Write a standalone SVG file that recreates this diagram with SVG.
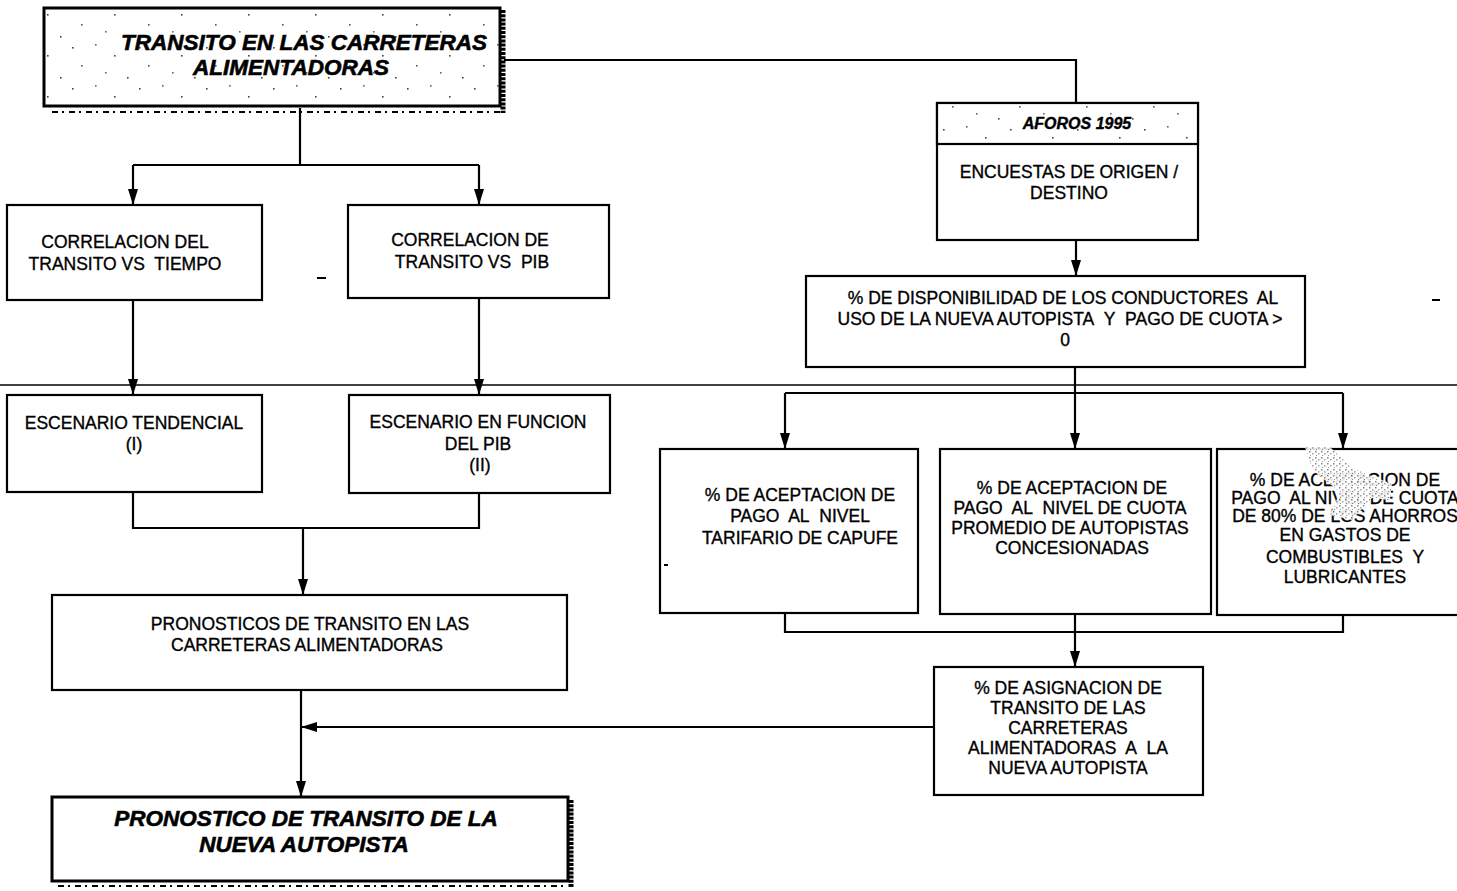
<svg xmlns="http://www.w3.org/2000/svg" width="1457" height="891" viewBox="0 0 1457 891">
  <defs>
    <style>
      .box { fill: #fff; stroke: #000; stroke-width: 2.2; }
      .hdr { fill: url(#stipple); stroke: #000; stroke-width: 3; }
      .t { font-family: "Liberation Sans", Arial, sans-serif; font-size: 17.5px; fill: #000; stroke: #000; stroke-width: 0.35; text-anchor: middle; }
      .ti { font-family: "Liberation Sans", Arial, sans-serif; font-size: 22.5px; font-weight: bold; font-style: italic; fill: #000; stroke: #000; stroke-width: 0.6; text-anchor: middle; }
      .conn { fill: none; stroke: #000; stroke-width: 2.2; }
      .shadow { fill: none; stroke: #000; stroke-width: 5; stroke-dasharray: 3 1.2; }
      .shadowb { fill: none; stroke: #000; stroke-width: 2; stroke-dasharray: 6 4 2 5; }
    </style>
    <!-- sparse speckle texture used in the heading boxes -->
    <pattern id="stipple" width="67" height="41" patternUnits="userSpaceOnUse">
      <rect width="67" height="41" fill="#fff"/>
      <rect x="5" y="6" width="1.6" height="1.6" fill="#444"/>
      <rect x="28" y="3" width="1.6" height="1.6" fill="#666"/>
      <rect x="47" y="14" width="1.6" height="1.6" fill="#444"/>
      <rect x="14" y="24" width="1.6" height="1.6" fill="#555"/>
      <rect x="38" y="31" width="1.6" height="1.6" fill="#666"/>
      <rect x="60" y="36" width="1.6" height="1.6" fill="#444"/>
    </pattern>
    <pattern id="smudge" width="6" height="6" patternUnits="userSpaceOnUse">
      <rect width="6" height="6" fill="#fff"/>
      <rect x="1" y="1" width="1.5" height="1.5" fill="#777"/>
      <rect x="4" y="3" width="1.5" height="1.5" fill="#999"/>
      <rect x="2" y="5" width="1" height="1" fill="#888"/>
    </pattern>
    <marker id="arr" viewBox="0 0 16 10" refX="16" refY="5" markerWidth="16" markerHeight="10" markerUnits="userSpaceOnUse" orient="auto">
      <path d="M0,0 L16,5 L0,10 Z" fill="#000"/>
    </marker>
  </defs>

  <rect width="1457" height="891" fill="#fff"/>

  <!-- long horizontal rule across the sheet -->
  <g id="rule">
    <line x1="0" y1="385" x2="1457" y2="385" stroke="#000" stroke-width="1.4"/>
  </g>

  <!-- connectors -->
  <g id="connectors">
    <path class="conn" d="M504,60 H1076 V103"/>
    <path class="conn" d="M300,108 V165"/>
    <path class="conn" d="M133,165 H479"/>
    <path class="conn" d="M133,165 V205" marker-end="url(#arr)"/>
    <path class="conn" d="M479,165 V205" marker-end="url(#arr)"/>
    <path class="conn" d="M133,300 V395" marker-end="url(#arr)"/>
    <path class="conn" d="M479,298 V395" marker-end="url(#arr)"/>
    <path class="conn" d="M133,492 V528 H479 V493"/>
    <path class="conn" d="M303,528 V595" marker-end="url(#arr)"/>
    <path class="conn" d="M301,690 V797" marker-end="url(#arr)"/>
    <path class="conn" d="M934,727 H301" marker-end="url(#arr)"/>
    <path class="conn" d="M1076,240 V276" marker-end="url(#arr)"/>
    <path class="conn" d="M1075,367 V393"/>
    <path class="conn" d="M785,393 H1343"/>
    <path class="conn" d="M785,393 V449" marker-end="url(#arr)"/>
    <path class="conn" d="M1075,393 V449" marker-end="url(#arr)"/>
    <path class="conn" d="M1343,393 V449" marker-end="url(#arr)"/>
    <path class="conn" d="M785,613 V632 H1343 V615"/>
    <path class="conn" d="M1075,614 V667" marker-end="url(#arr)"/>
  </g>

  <!-- heading: feeder-road traffic -->
  <g id="n-transito">
    <rect class="hdr" x="44" y="8" width="456" height="98"/>
    <line class="shadow" x1="503" y1="10" x2="503" y2="113"/>
    <line class="shadowb" x1="52" y1="112" x2="500" y2="112"/>
    <text class="ti" x="304" y="50">TRANSITO EN LAS CARRETERAS</text>
    <text class="ti" x="291" y="75">ALIMENTADORAS</text>
  </g>

  <g id="n-aforos">
    <rect class="box" x="937" y="103" width="261" height="137"/>
    <rect class="hdr" x="937" y="103" width="261" height="41" style="stroke-width:2.2"/>
    <text class="ti" x="1077" y="129" style="font-size:16px;stroke-width:0.4">AFOROS 1995</text>
    <text class="t" x="1069" y="178">ENCUESTAS DE ORIGEN /</text>
    <text class="t" x="1069" y="199">DESTINO</text>
  </g>

  <g id="n-corr-tiempo">
    <rect class="box" x="7" y="205" width="255" height="95"/>
    <text class="t" x="125" y="248">CORRELACION DEL</text>
    <text class="t" x="125" y="270">TRANSITO VS&#160; TIEMPO</text>
  </g>

  <g id="n-corr-pib">
    <rect class="box" x="348" y="205" width="261" height="93"/>
    <text class="t" x="470" y="246">CORRELACION DE</text>
    <text class="t" x="472" y="268">TRANSITO VS&#160; PIB</text>
  </g>

  <g id="n-disponibilidad">
    <rect class="box" x="806" y="276" width="499" height="91"/>
    <text class="t" x="1063" y="304">% DE DISPONIBILIDAD DE LOS CONDUCTORES&#160; AL</text>
    <text class="t" x="1060" y="325">USO DE LA NUEVA AUTOPISTA&#160; Y&#160; PAGO DE CUOTA &gt;</text>
    <text class="t" x="1065" y="346">0</text>
  </g>

  <g id="n-esc-tendencial">
    <rect class="box" x="7" y="395" width="255" height="97"/>
    <text class="t" x="134" y="429">ESCENARIO TENDENCIAL</text>
    <text class="t" x="134" y="450">(I)</text>
  </g>

  <g id="n-esc-pib">
    <rect class="box" x="349" y="395" width="261" height="98"/>
    <text class="t" x="478" y="428">ESCENARIO EN FUNCION</text>
    <text class="t" x="478" y="450">DEL PIB</text>
    <text class="t" x="480" y="471">(II)</text>
  </g>

  <g id="n-capufe">
    <rect class="box" x="660" y="449" width="258" height="164"/>
    <text class="t" x="800" y="501">% DE ACEPTACION DE</text>
    <text class="t" x="800" y="522">PAGO&#160; AL&#160; NIVEL</text>
    <text class="t" x="800" y="544">TARIFARIO DE CAPUFE</text>
  </g>

  <g id="n-concesionadas">
    <rect class="box" x="940" y="449" width="271" height="165"/>
    <text class="t" x="1072" y="494">% DE ACEPTACION DE</text>
    <text class="t" x="1070" y="514">PAGO&#160; AL&#160; NIVEL DE CUOTA</text>
    <text class="t" x="1070" y="534">PROMEDIO DE AUTOPISTAS</text>
    <text class="t" x="1072" y="554">CONCESIONADAS</text>
  </g>

  <g id="n-ahorros">
    <rect class="box" x="1217" y="449" width="260" height="166"/>
    <text class="t" x="1345" y="486">% DE ACEPTACION DE</text>
    <text class="t" x="1345" y="504">PAGO&#160; AL NIVEL DE CUOTA</text>
    <text class="t" x="1345" y="522">DE 80% DE LOS AHORROS</text>
    <text class="t" x="1345" y="541">EN GASTOS DE</text>
    <text class="t" x="1345" y="563">COMBUSTIBLES&#160; Y</text>
    <text class="t" x="1345" y="583">LUBRICANTES</text>
    <!-- worn patch over the upper lines -->
    <path d="M1305,447 L1330,447 L1352,468 L1392,484 L1390,500 L1372,498 L1352,520 L1330,515 L1340,492 L1312,470 Z" fill="url(#smudge)" opacity="0.9"/>
  </g>

  <g id="n-pronosticos">
    <rect class="box" x="52" y="595" width="515" height="95"/>
    <text class="t" x="310" y="630">PRONOSTICOS DE TRANSITO EN LAS</text>
    <text class="t" x="307" y="651">CARRETERAS ALIMENTADORAS</text>
  </g>

  <g id="n-asignacion">
    <rect class="box" x="934" y="667" width="269" height="128"/>
    <text class="t" x="1068" y="694">% DE ASIGNACION DE</text>
    <text class="t" x="1068" y="714">TRANSITO DE LAS</text>
    <text class="t" x="1068" y="734">CARRETERAS</text>
    <text class="t" x="1068" y="754">ALIMENTADORAS&#160; A&#160; LA</text>
    <text class="t" x="1068" y="774">NUEVA AUTOPISTA</text>
  </g>

  <!-- result: forecast for the new motorway -->
  <g id="n-pronostico-autopista">
    <rect x="52" y="797" width="516" height="84" fill="#fff" stroke="#000" stroke-width="3"/>
    <line class="shadow" x1="571" y1="800" x2="571" y2="887"/>
    <line class="shadowb" x1="58" y1="886" x2="568" y2="886"/>
    <text class="ti" x="306" y="826">PRONOSTICO DE TRANSITO DE LA</text>
    <text class="ti" x="304" y="852">NUEVA AUTOPISTA</text>
  </g>

  <!-- stray marks -->
  <g id="marks" stroke="#000" stroke-width="2">
    <line x1="317" y1="278" x2="326" y2="278"/>
    <line x1="1432" y1="300" x2="1440" y2="300"/>
    <line x1="664" y1="565" x2="668" y2="565"/>
  </g>
</svg>
